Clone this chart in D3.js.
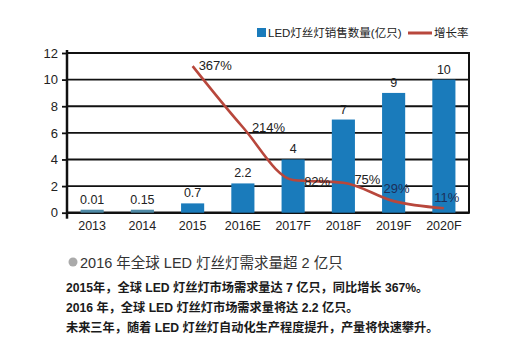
<!DOCTYPE html>
<html><head><meta charset="utf-8">
<script src="https://cdn.jsdelivr.net/npm/d3@7"></script>
<style>
body{margin:0;background:#fff;}
svg{display:block;font-family:"Liberation Sans","Noto Sans CJK SC",sans-serif;}
</style></head>
<body><svg id="c" width="525" height="359"></svg>
<script>
const categories = ["2013","2014","2015","2016E","2017F","2018F","2019F","2020F"];
const salesValues = [0.01,0.15,0.7,2.2,4,7,9,10];
const salesLabels = ["0.01","0.15","0.7","2.2","4","7","9","10"];
const growthCategories = ["2015","2016E","2017F","2018F","2019F","2020F"];
const growthValues = [367,214,82,75,29,11];
const yTicks = [0,2,4,6,8,10,12];
const legendLabels = ["LED灯丝灯销售数量(亿只)","增长率"];
const titleText = "2016 年全球 LED 灯丝灯需求量超 2 亿只";
const bodyLines = [
  "2015年，全球 LED 灯丝灯市场需求量达 7 亿只，同比增长 367%。",
  "2016 年，全球 LED 灯丝灯市场需求量将达 2.2 亿只。",
  "未来三年，随着 LED 灯丝灯自动化生产程度提升，产量将快速攀升。"
];

// layout / style (not data)
const L = 67, R = 469, T = 53, B = 212.7;
const barColor = "#1a7bbb", lineColor = "#b8473c";
const pctOffsets = [[6,4,"start"],[9,5,"start"],[11,6,"start"],[11,1,"start"],[3,-8,"middle"],[3,-6,"middle"]];

const svg = d3.select("#c");
const x = d3.scaleBand().domain(categories).range([L,R]).paddingInner(0.54).paddingOuter(0.27);
const y = d3.scaleLinear().domain([0,12]).range([B,T]);
const yR = d3.scaleLinear().domain([0,400]).range([B,T]);

// grid lines
svg.append("g").selectAll("line").data(yTicks).join("line")
  .attr("x1",L).attr("x2",R).attr("y1",d=>y(d)).attr("y2",d=>y(d))
  .attr("stroke","#111").attr("stroke-width",d=>d===0?2.5:1.9);
// right border
svg.append("line").attr("x1",R).attr("x2",R).attr("y1",y(12)-1).attr("y2",y(0)+1)
  .attr("stroke","#111").attr("stroke-width",2);

// bars
svg.append("g").selectAll("rect").data(categories).join("rect")
  .attr("x",d=>x(d)).attr("width",x.bandwidth())
  .attr("y",(d,i)=>Math.min(y(salesValues[i]), y(0)-3))
  .attr("height",(d,i)=>Math.max(y(0)-y(salesValues[i]),3))
  .attr("fill",(d,i)=>salesValues[i]<0.5?"#4f8aa6":barColor);

// left axis
const ya = svg.append("g").attr("transform",`translate(${L},0)`)
  .call(d3.axisLeft(y).tickValues(yTicks).tickSize(5).tickSizeOuter(0).tickPadding(4));
ya.select(".domain").attr("stroke","#111").attr("stroke-width",2.5)
  .attr("d",`M0,${T-3}V${B+6}`);
ya.selectAll(".tick line").attr("stroke","#111").attr("stroke-width",1.8);
ya.selectAll(".tick text").attr("font-size",13).attr("fill","#222")
  .attr("font-family","Liberation Sans, sans-serif");

// x axis labels
const xa = svg.append("g").attr("transform",`translate(0,${B})`)
  .call(d3.axisBottom(x).tickSize(0).tickPadding(8));
xa.select(".domain").remove();
xa.selectAll(".tick text").attr("font-size",12.5).attr("fill","#222")
  .attr("font-family","Liberation Sans, sans-serif");

// bar value labels
svg.append("g").selectAll("text").data(categories).join("text")
  .attr("x",d=>x(d)+x.bandwidth()/2)
  .attr("y",(d,i)=>Math.min(y(salesValues[i]),y(0)-3)-6)
  .attr("text-anchor","middle").attr("font-size",12.5).attr("fill","#222")
  .text((d,i)=>salesLabels[i]);

// growth line
const line = d3.line()
  .x((d,i)=>x(growthCategories[i])+x.bandwidth()/2)
  .y(d=>yR(d)).curve(d3.curveMonotoneX);
svg.append("path").datum(growthValues).attr("d",line)
  .attr("fill","none").attr("stroke",lineColor).attr("stroke-width",2.6);

// growth labels
svg.append("g").selectAll("text").data(growthValues).join("text")
  .attr("x",(d,i)=>x(growthCategories[i])+x.bandwidth()/2+pctOffsets[i][0])
  .attr("y",(d,i)=>yR(d)+pctOffsets[i][1])
  .attr("text-anchor",(d,i)=>pctOffsets[i][2])
  .attr("font-size",13).attr("fill",(d,i)=>i>=4?"#1c2f5a":"#222")
  .text(d=>d+"%");

// legend
svg.append("rect").attr("x",257).attr("y",28).attr("width",9).attr("height",9).attr("fill",barColor);
svg.append("text").attr("x",268).attr("y",37).attr("font-size",11.5).attr("fill","#222").text(legendLabels[0]);
svg.append("line").attr("x1",408).attr("x2",432).attr("y1",33).attr("y2",33)
  .attr("stroke",lineColor).attr("stroke-width",3);
svg.append("text").attr("x",434).attr("y",37).attr("font-size",11.5).attr("fill","#222").text(legendLabels[1]);

// bottom text
svg.append("circle").attr("cx",73).attr("cy",262).attr("r",4.5).attr("fill","#aaa");
svg.append("text").attr("x",80).attr("y",267.5).attr("font-size",14.5).attr("fill","#333").text(titleText);
svg.append("g").selectAll("text").data(bodyLines).join("text")
  .attr("x",66).attr("y",(d,i)=>292+i*20)
  .attr("font-size",12.2).attr("font-weight","bold").attr("fill","#1a1a1a")
  .text(d=>d);
</script></body></html>
